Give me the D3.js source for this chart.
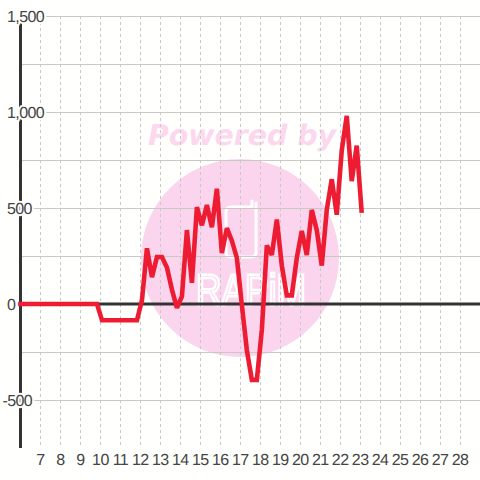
<!DOCTYPE html>
<html>
<head>
<meta charset="utf-8">
<script src="https://d3js.org/d3.v7.min.js"></script>
<style>
  html, body { margin: 0; padding: 0; background: #fff; }
  text { font-family: "Liberation Sans", Arial, sans-serif; text-rendering: geometricPrecision; }
</style>
</head>
<body>
<div id="chart-area"></div>
<script>
// Values
const days = [5.88, 9.83, 10.08, 11.83, 12.08, 12.33, 12.58, 12.83, 13.08, 13.33, 13.58, 13.83, 14.08, 14.33, 14.58, 14.83, 15.08, 15.33, 15.58, 15.83, 16.08, 16.33, 16.58, 16.83, 17.08, 17.33, 17.58, 17.83, 18.08, 18.33, 18.58, 18.83, 19.08, 19.33, 19.58, 19.83, 20.08, 20.33, 20.58, 20.83, 21.08, 21.33, 21.58, 21.83, 22.08, 22.33, 22.58, 22.83, 23.08];
const values = [0, 0, -85, -85, 20, 290, 140, 245, 245, 190, 75, -20, 40, 385, 110, 505, 410, 515, 400, 600, 265, 395, 330, 240, -5, -240, -395, -395, -135, 305, 255, 440, 200, 45, 45, 240, 380, 255, 490, 385, 200, 490, 650, 465, 800, 980, 640, 825, 475];
const dayTicks = d3.range(7, 29);
const valueTicks = [-500, 0, 500, 1000, 1500];
const minorValues = [-250, 250, 750, 1250];

const width = 480;
const height = 480;

const xScale = d3.scaleLinear().domain([6, 29]).range([20.5, 480]);
const yScale = d3.scaleLinear().domain([-750, 1500]).range([448, 16]);

const svg = d3.select("#chart-area")
  .append("svg")
  .attr("width", width)
  .attr("height", height)
  .style("display", "block");

svg.append("rect").attr("width", width).attr("height", height).attr("fill", "#fffffd");

// Watermark behind everything
const mark = svg.append("g");
mark.append("text")
  .attr("x", 148).attr("y", 145)
  .style("font-family", "DejaVu Sans")
  .style("font-weight", "bold").style("font-style", "italic")
  .style("font-size", "28.4px")
  .attr("fill", "#fcd7ee")
  .text("Powered by");
mark.append("circle").attr("cx", 240).attr("cy", 258).attr("r", 99).attr("fill", "#fbd5ed");
mark.append("path")
  .attr("d", "M230,207 H252 V201 M256,203 V252 Q256,257 251,257 H231 Q226,257 226,252 V212 Q226,207 231,207")
  .attr("fill", "none").attr("stroke", "#fff").attr("stroke-width", 3).attr("stroke-linecap", "round");
mark.append("text")
  .attr("x", 196).attr("y", 305)
  .attr("textLength", 110).attr("lengthAdjust", "spacingAndGlyphs")
  .style("font-size", "44px")
  .attr("fill", "#fbd5ed")
  .attr("stroke", "#fff").attr("stroke-width", 2.5)
  .text("RAPiM");

// Grid
const grid = svg.append("g").attr("fill", "none");
grid.selectAll("line.h")
  .data(valueTicks.concat(minorValues).filter((d) => d !== 0))
  .join("line")
  .attr("x1", 20).attr("x2", 480)
  .attr("y1", (d) => yScale(d) + 0.5).attr("y2", (d) => yScale(d) + 0.5)
  .attr("stroke", "#c8c8c4");
grid.selectAll("line.v")
  .data(dayTicks)
  .join("line")
  .attr("x1", (d) => Math.round(xScale(d)) + 0.5).attr("x2", (d) => Math.round(xScale(d)) + 0.5)
  .attr("y1", 16).attr("y2", 448)
  .attr("stroke", "#c8c8c4").attr("stroke-dasharray", "3,3");

// Zero line and y axis line
svg.append("line")
  .attr("x1", 20).attr("x2", 480)
  .attr("y1", yScale(0)).attr("y2", yScale(0))
  .attr("stroke", "#333").attr("stroke-width", 3);
svg.append("line")
  .attr("x1", 20.5).attr("x2", 20.5)
  .attr("y1", 16).attr("y2", 448)
  .attr("stroke", "#333").attr("stroke-width", 3);

// Axes, labels only
const yAxis = d3.axisLeft(yScale)
  .tickValues(valueTicks)
  .tickSize(0)
  .tickFormat((d) => d3.format(",")(d).replace("\u2212", "-"));
const yG = svg.append("g").attr("transform", "translate(44,0)").call(yAxis);
yG.select(".domain").remove();
yG.selectAll("text")
  .attr("text-anchor", "start")
  .attr("x", (d) => (d === -500 ? -41.5 : -37))
  .style("font-size", "16px")
  .style("letter-spacing", "-0.6px")
  .style("font-family", "Liberation Sans")
  .attr("fill", "#444")
  .attr("paint-order", "stroke")
  .attr("stroke", "#fffffd")
  .attr("stroke-width", 4);

const xAxis = d3.axisBottom(xScale)
  .tickValues(dayTicks)
  .tickSize(0)
  .tickPadding(6);
const xG = svg.append("g").attr("transform", "translate(-0.5,448)").call(xAxis);
xG.select(".domain").remove();
xG.selectAll("text")
  .style("font-size", "16px")
  .style("letter-spacing", "-0.6px")
  .style("font-family", "Liberation Sans")
  .attr("fill", "#444");

// Series
const line = d3.line()
  .x((d, i) => xScale(days[i]))
  .y((d) => yScale(d));
svg.append("path")
  .datum(values)
  .attr("d", line)
  .attr("fill", "none")
  .attr("stroke", "#ee1c33")
  .attr("stroke-width", 4.6)
  .attr("stroke-linejoin", "miter")
  .attr("stroke-miterlimit", 2);
</script>
</body>
</html>
